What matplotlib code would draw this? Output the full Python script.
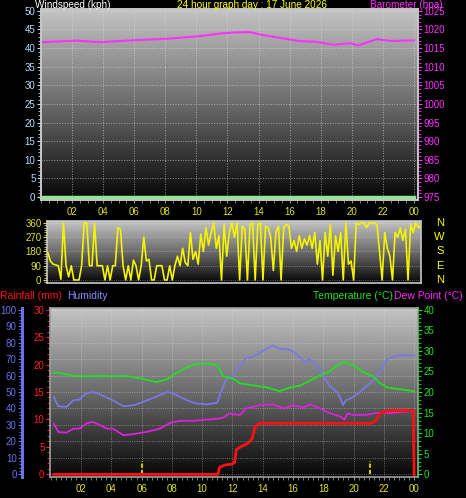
import numpy as np
import matplotlib
matplotlib.use('Agg')
import matplotlib.pyplot as plt
from matplotlib.colors import LinearSegmentedColormap
from matplotlib.ticker import MultipleLocator, FixedLocator

plt.rcParams['font.family'] = ['Liberation Sans', 'DejaVu Sans']

# ---- data ----
wind_hours = [0, 6, 12, 18, 24]
wind_speed = [0, 0, 0, 0, 0]

pres_hours = [0.0, 0.15, 2.3, 3.8, 5.9, 8.1, 10.2, 11.5, 12.4, 13.4, 14.3, 15.6, 16.6,
              17.7, 18.8, 19.9, 20.4, 20.9, 21.6, 22.6, 24.0]
pres = [1016.6, 1016.6, 1017.0, 1016.6, 1017.1, 1017.5, 1018.2, 1018.9, 1019.2, 1019.3,
        1018.5, 1017.6, 1016.9, 1016.7, 1015.9, 1016.3, 1015.7, 1016.4, 1017.4, 1016.9, 1017.1]

# wind direction, one reading every 10 minutes from 00:00 to 24:00
wdir = [170, 118, 100, 95, 90, 5,
        360, 90, 20, 90, 0, 0,
        0, 90, 360, 360, 90, 90,
        360, 90, 90, 90, 0, 90,
        0, 90, 90, 330, 320, 90,
        0, 90, 0, 125, 90, 0,
        90, 270, 120, 130, 0, 0,
        90, 90, 90, 0, 0, 90,
        0, 90, 150, 90, 200, 110,
        90, 300, 130, 180, 100, 290,
        180, 330, 220, 300, 360, 200,
        280, 0, 350, 150, 300, 360,
        270, 360, 0, 340, 320, 0,
        350, 360, 0, 350, 360, 0,
        340, 330, 270, 60, 300, 340,
        0, 330, 350, 340, 200, 250,
        180, 280, 200, 260, 220, 280,
        200, 300, 100, 250, 0, 300,
        150, 350, 30, 280, 180, 300,
        0, 360, 100, 120, 0, 360,
        350, 360, 360, 330, 360, 360,
        360, 350, 180, 0, 300, 200,
        150, 0, 300, 270, 330, 250,
        320, 0, 350, 300, 360, 330,
        340]
wdir_hours = [i / 6 for i in range(len(wdir))]

hum_hours = [0.2, 0.5, 1.05, 1.5, 1.9, 2.3, 2.8, 3.25, 3.7, 4.1, 4.8, 5.5, 6.1, 6.8, 7.7,
             8.1, 9.0, 9.6, 10.3, 11.0, 11.2, 11.6, 12.1, 12.5, 12.9, 13.4, 14.0, 14.7,
             15.1, 15.8, 16.2, 16.8, 17.1, 17.6, 18.0, 18.4, 18.9, 19.1, 19.3, 19.5,
             19.8, 20.2, 20.5, 20.9, 21.3, 21.7, 22.2, 23.0, 24.0]
hum = [47, 41.3, 41, 45, 45.4, 49, 50, 48.6, 46.6, 45, 41.3, 42, 44, 46.6, 50,
       49, 45, 43, 42.5, 43.5, 49, 58, 60, 66, 70.6, 71.5, 75, 78.3,
       76.3, 75.7, 73.3, 68, 70, 66, 60, 54, 50, 47, 42, 45,
       46, 48.5, 50.5, 54, 57, 62, 70, 72.3, 72.3]

temp_hours = [0.2, 0.5, 1.5, 2.2, 3.3, 4.1, 5.0, 5.9, 7.0, 7.7, 8.3, 9.0, 9.6, 10.3, 11.0,
              11.4, 12.1, 12.5, 13.4, 14.3, 15.1, 15.8, 16.5, 17.1, 17.8, 18.4, 18.9,
              19.4, 20.0, 20.6, 21.3, 21.7, 22.2, 23.0, 24.0]
temp = [24.6, 24.7, 23.9, 23.8, 23.9, 23.8, 23.9, 23.3, 22.4, 23.1, 24.6, 26.0, 26.8, 26.9,
        26.5, 23.8, 23.1, 22.1, 21.6, 21.1, 20.2, 21.1, 21.6, 22.7, 24.1, 24.9, 26.4,
        27.3, 26.5, 24.9, 23.8, 22.3, 21.1, 20.7, 20.2]

dew_hours = [0.2, 0.5, 1.0, 1.5, 1.9, 2.4, 2.8, 3.3, 3.7, 4.1, 4.8, 5.5, 6.3, 7.2, 7.9,
             8.5, 9.4, 10.3, 11.0, 11.4, 11.8, 12.5, 12.9, 13.8, 14.7, 15.4, 16.0, 16.7,
             17.1, 17.8, 18.4, 19.1, 19.4, 19.6, 20.0, 20.9, 21.5, 22.4, 24.0]
dew = [12.3, 10.3, 10.1, 11.1, 11.1, 12.5, 12.7, 11.9, 11.1, 11.1, 9.5, 9.8, 10.3, 11.1,
       12.5, 13.0, 13.0, 13.3, 13.5, 13.8, 14.8, 14.4, 16.0, 16.8, 17.0, 16.0, 16.8, 16.2,
       17.0, 16.0, 14.9, 14.1, 13.3, 14.8, 14.4, 14.5, 14.9, 14.9, 15.4]

rain_hours = [0.2, 11.05, 11.15, 11.5, 12.0, 12.15, 12.25, 12.6, 13.0, 13.3, 13.5, 13.8,
              21.2, 21.5, 21.8, 22.3, 23.95, 24.0]
rain = [0, 0, 1.3, 1.7, 1.9, 2.2, 4.5, 5.1, 5.6, 6.5, 8.7, 9.3,
        9.3, 9.9, 11.2, 11.6, 11.6, 0]

mark_hours = [6.0, 21.1]
mark_vals = [2.4, 2.4]

hour_ticks = [2, 4, 6, 8, 10, 12, 14, 16, 18, 20, 22, 24]
hour_labels = ['02', '04', '06', '08', '10', '12', '14', '16', '18', '20', '22', '00']

W, H = 466, 498
fig = plt.figure(figsize=(W / 100, H / 100), dpi=100, facecolor='black')
YEL = '#dce024'
TFS = 7.5


def px_axes(x0, y0, x1, y1):
    ax = fig.add_axes([x0 / W, 1 - y1 / H, (x1 - x0) / W, (y1 - y0) / H])
    ax.set_facecolor('black')
    return ax


def shade(ax, xlim, ylim, top='#c4c4c4', bot='#060606'):
    cmap = LinearSegmentedColormap.from_list('g', [bot, '#6a6a6a', top])
    grad = np.linspace(0, 1, 256).reshape(-1, 1)
    ax.imshow(grad, aspect='auto', cmap=cmap, origin='lower',
              extent=[xlim[0], xlim[1], ylim[0], ylim[1]], zorder=0)
    ax.set_xlim(xlim)
    ax.set_ylim(ylim)


def frame(ax, col='#c8c8c8'):
    for s in ax.spines.values():
        s.set_color(col)
        s.set_linewidth(1.2)


# ---- top panel: windspeed / barometer ----
ax1 = px_axes(41, 9, 418, 200)
shade(ax1, (0, 24.26), (-0.8, 50.5))
frame(ax1)
ax1.grid(True, color='#e0e0e0', ls=':', lw=0.7, alpha=0.6)
ax1.set_axisbelow(False)
ax1.yaxis.set_major_locator(MultipleLocator(5))
ax1.yaxis.set_minor_locator(MultipleLocator(1))
ax1.xaxis.set_major_locator(FixedLocator(hour_ticks))
ax1.xaxis.set_minor_locator(MultipleLocator(0.5))
ax1.set_xticklabels(hour_labels)
ax1.tick_params(axis='y', colors='#b8dcff', labelsize=7, length=3, width=0.8, pad=1)
ax1.tick_params(axis='y', which='minor', colors='#b8dcff', length=2)
ax1.tick_params(axis='x', which='both', colors='#909090', labelcolor=YEL, labelsize=7,
                length=2, pad=3)
ax1.plot(wind_hours, wind_speed, color='#90e890', lw=2.5, zorder=3, clip_on=False)

ax1b = ax1.twinx()
ax1b.set_ylim(974.2, 1025.5)
ax1b.yaxis.set_major_locator(MultipleLocator(5))
ax1b.yaxis.set_minor_locator(MultipleLocator(1))
ax1b.tick_params(axis='y', which='both', colors='#ff30ff', labelsize=7, length=3, pad=1)
ax1b.tick_params(axis='y', which='minor', length=2)
frame(ax1b)
ax1b.plot(pres_hours, pres, color='#ff30ff', lw=1.5)

fig.text(35 / W, 1 - 7.5 / H, 'Windspeed (kph)', color='white', fontsize=7.2, va='baseline')
fig.text(252 / W, 1 - 7.5 / H, '24 hour graph day : 17 June 2026', color='#ffff00',
         fontsize=7.2, va='baseline', ha='center')
fig.text(370 / W, 1 - 7.5 / H, 'Barometer (hpa)', color='#ff30ff', fontsize=7.2,
         va='baseline')

# ---- wind direction panel ----
ax2 = px_axes(47, 221, 421, 283)
shade(ax2, (-0.06, 24.0), (-19, 372))
frame(ax2)
ax2.set_yticks([0, 90, 180, 270, 360])
ax2.yaxis.set_minor_locator(MultipleLocator(15))
ax2.yaxis.grid(True, color='#e0e0e0', ls=':', lw=0.6, alpha=0.5)
ax2.set_xticks([])
ax2.tick_params(axis='y', which='both', colors=YEL, labelsize=7, length=3, pad=1)
ax2.tick_params(axis='y', which='minor', length=2)
ax2.plot(wdir_hours, wdir, color='#f4f400', lw=1.2, zorder=3)
for lab, v in zip(['N', 'W', 'S', 'E', 'N'], [360, 270, 180, 90, 0]):
    ax2.text(1.05, (v + 19) / 391, lab, transform=ax2.transAxes, color='#ffff00',
             fontsize=8, ha='center', va='center')

# ---- bottom panel: rain / humidity / temperature / dew point ----
ax3 = px_axes(50, 308, 418, 477)
shade(ax3, (-0.05, 24.26), (-0.48, 30.3))
frame(ax3, '#a0a0a0')
ax3.yaxis.set_major_locator(MultipleLocator(5))
ax3.yaxis.set_minor_locator(MultipleLocator(1))
ax3.xaxis.set_major_locator(FixedLocator(hour_ticks))
ax3.xaxis.set_minor_locator(MultipleLocator(1 / 3))
ax3.set_xticklabels(hour_labels)
ax3.tick_params(axis='y', which='both', colors='#ff2020', labelsize=7, length=3, pad=1)
ax3.tick_params(axis='y', which='minor', length=2)
ax3.tick_params(axis='x', which='both', colors='#909090', labelcolor=YEL, labelsize=7,
                length=2, pad=3)

axh = ax3.twinx()
axh.set_ylim(-1.6, 101)
axh.yaxis.tick_left()
axh.spines['left'].set_position(('outward', 20))
axh.spines['left'].set_color('#6e6ee8')
axh.spines['left'].set_linewidth(2.2)
for s in ['top', 'right', 'bottom']:
    axh.spines[s].set_visible(False)
axh.yaxis.set_major_locator(MultipleLocator(10))
axh.yaxis.set_minor_locator(MultipleLocator(2))
axh.tick_params(axis='y', which='both', colors='#6e6ee8', labelsize=7, length=3, pad=1)
axh.tick_params(axis='y', which='minor', length=2)
axh.yaxis.grid(True, color='#e0e0e0', ls=':', lw=0.6, alpha=0.55)
for h in hour_ticks:
    axh.axvline(h, color='#e0e0e0', ls=':', lw=0.6, alpha=0.55)
axh.plot(hum_hours, hum, color='#7878e8', lw=1.3)

axt = ax3.twinx()
axt.set_ylim(-0.64, 40.4)
for s in ['top', 'left', 'bottom']:
    axt.spines[s].set_visible(False)
axt.spines['right'].set_color('#30c030')
axt.spines['right'].set_linestyle(':')
axt.yaxis.set_major_locator(MultipleLocator(5))
axt.yaxis.set_minor_locator(MultipleLocator(1))
axt.tick_params(axis='y', which='both', colors='#20e020', labelsize=7, length=3, pad=1)
axt.tick_params(axis='y', which='minor', length=2)
axt.plot(temp_hours, temp, color='#20e020', lw=1.3)
axt.plot(dew_hours, dew, color='#e020e0', lw=1.3)

axr = ax3.twinx()
axr.set_ylim(ax3.get_ylim())
axr.axis('off')
axr.vlines(mark_hours, 0, mark_vals, color='#c8c800', lw=1.5, ls=(0, (2, 1)))
axr.plot(rain_hours, rain, color='#ff1010', lw=2)

fig.text(0 / W, 1 - 299 / H, 'Rainfall (mm)', color='#ff1010', fontsize=TFS, va='baseline')
fig.text(67 / W, 1 - 299 / H, 'Humidity', color='#8c8cff', fontsize=TFS, va='baseline')
fig.text(313 / W, 1 - 299 / H, 'Temperature (\u00b0C)', color='#20e020', fontsize=TFS,
         va='baseline')
fig.text(394 / W, 1 - 299 / H, 'Dew Point (\u00b0C)', color='#ff20ff', fontsize=TFS,
         va='baseline')

fig.savefig('out.png', dpi=100, facecolor='black')
